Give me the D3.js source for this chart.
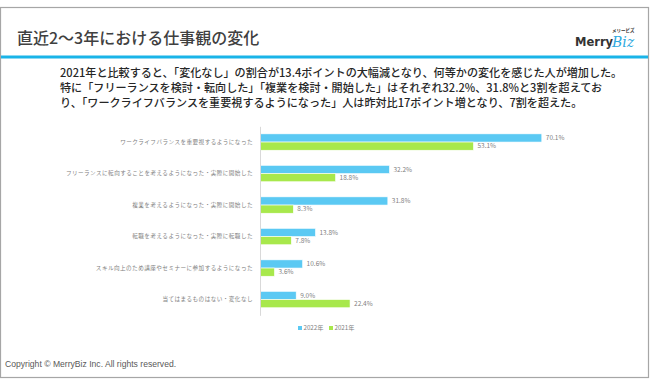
<!DOCTYPE html>
<html><head><meta charset="utf-8">
<script src="https://cdn.jsdelivr.net/npm/d3@7"></script>
<style>
html,body{margin:0;padding:0;background:#fff;}
svg{display:block;}
</style></head>
<body>
<svg id="c" width="650" height="380"></svg>
<script>
const categories = [
  "ワークライフバランスを重要視するようになった",
  "フリーランスに転向することを考えるようになった・実際に開始した",
  "複業を考えるようになった・実際に開始した",
  "転職を考えるようになった・実際に転職した",
  "スキル向上のため講座やセミナーに参加するようになった",
  "当てはまるものはない・変化なし"
];
const seriesNames = ["2022年", "2021年"];
const values2022 = [70.1, 32.2, 31.8, 13.8, 10.6, 9.0];
const values2021 = [53.1, 18.8, 8.3, 7.8, 3.6, 22.4];
const titleText = "直近2〜3年における仕事観の変化";
const bodyLines = [
  "2021年と比較すると、「変化なし」の割合が13.4ポイントの大幅減となり、何等かの変化を感じた人が増加した。",
  "特に「フリーランスを検討・転向した」「複業を検討・開始した」はそれぞれ32.2%、31.8%と3割を超えてお",
  "り、「ワークライフバランスを重要視するようになった」人は昨対比17ポイント増となり、7割を超えた。"
];
const copyright = "Copyright © MerryBiz Inc. All rights reserved.";

const colors = ["#5bc9f3", "#a8e84c"];
const svg = d3.select("#c");
const JP = "'Noto Sans CJK JP','Noto Sans',sans-serif";

// frame
svg.append("rect").attr("x",0.5).attr("y",7.5).attr("width",648).attr("height",370)
  .attr("fill","none").attr("stroke","#a6a6a6").attr("stroke-width",1.2);
svg.append("rect").attr("x",1).attr("y",55.5).attr("width",647).attr("height",3).attr("fill","#1ab4e8");

// title
svg.append("text").attr("x",17).attr("y",44).text(titleText)
  .attr("font-family",JP).attr("font-size",16).attr("font-weight",500).attr("fill","#404040");

// logo
const logo = svg.append("g");
logo.append("text").attr("x",612).attr("y",32).text("メリービズ")
  .attr("font-family",JP).attr("font-size",4.5).attr("font-weight",700).attr("fill","#333");
logo.append("text").attr("x",575).attr("y",46).text("Merry")
  .attr("font-family","'DejaVu Sans',sans-serif").attr("font-size",11.5).attr("font-weight",700).attr("fill","#333");
logo.append("text").attr("x",612).attr("y",47).text("Biz")
  .attr("font-family","'DejaVu Serif',serif").attr("font-style","italic").attr("font-size",14).attr("fill","#2fa9e0");

// body text
svg.append("g").selectAll("text").data(bodyLines).join("text")
  .attr("x",60).attr("y",(d,i)=>77+i*15).text(d=>d)
  .attr("font-family",JP).attr("font-size",11.1).attr("font-weight",500).attr("fill","#262626");

// chart
const x = d3.scaleLinear().domain([0,80]).range([260, 581.6]);
const y = d3.scaleBand().domain(categories).range([126.3, 315.3]).paddingInner(0.48).paddingOuter(0.24);
const sub = d3.scaleBand().domain(seriesNames).range([0, y.bandwidth()]);

const data = categories.map((c,i)=>({cat:c, vals:[values2022[i], values2021[i]]}));
const g = svg.append("g");
const groups = g.selectAll("g.cat").data(data).join("g").attr("class","cat")
  .attr("transform",d=>`translate(0,${y(d.cat)})`);
groups.selectAll("rect").data(d=>d.vals.map((v,k)=>({v,k})))
  .join("rect")
  .attr("x",x(0)).attr("y",d=>sub(seriesNames[d.k]))
  .attr("width",d=>x(d.v)-x(0)).attr("height",sub.bandwidth())
  .attr("fill",d=>colors[d.k]).attr("stroke","#fff").attr("stroke-width",0.6);
groups.selectAll("text").data(d=>d.vals.map((v,k)=>({v,k})))
  .join("text")
  .attr("x",d=>x(d.v)+4).attr("y",d=>sub(seriesNames[d.k])+sub.bandwidth()/2)
  .attr("dy","0.35em").text(d=>d.v.toFixed(1)+"%")
  .attr("font-family",JP).attr("font-size",6.5).attr("fill","#7f7f7f");

// axis
const yAxis = d3.axisLeft(y).tickSize(0).tickPadding(7);
const ag = svg.append("g").attr("transform",`translate(${x(0)},0)`).call(yAxis);
ag.select(".domain").attr("stroke","#d9d9d9").attr("stroke-width",1);
ag.selectAll("text").attr("font-family",JP).attr("font-size",5.6).attr("letter-spacing",0.45)
  .attr("fill","#808080");

// legend
const lg = svg.append("g").attr("transform","translate(298,328)");
const li = lg.selectAll("g").data(seriesNames).join("g").attr("transform",(d,i)=>`translate(${i*31},0)`);
li.append("rect").attr("x",0).attr("y",-2).attr("width",4).attr("height",4).attr("fill",(d,i)=>colors[i]);
li.append("text").attr("x",5.5).attr("y",0).attr("dy","0.35em").text(d=>d)
  .attr("font-family",JP).attr("font-size",6.2).attr("fill","#808080");

// copyright
svg.append("text").attr("x",5).attr("y",367).text(copyright)
  .attr("font-family","'Liberation Sans',Arial,sans-serif").attr("font-size",8.6).attr("fill","#595959");
</script>
</body></html>
